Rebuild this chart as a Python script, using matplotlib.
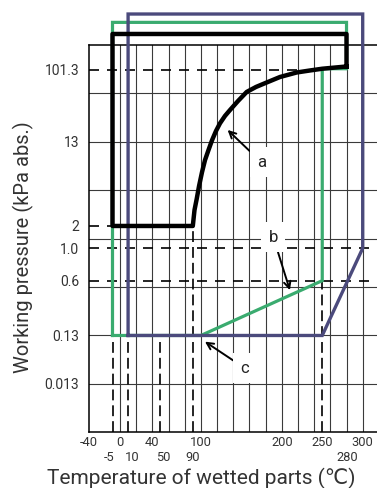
import numpy as np
import matplotlib
matplotlib.use('Agg')
import matplotlib.pyplot as plt
import matplotlib.transforms as mtransforms
from matplotlib.ticker import FixedLocator, FixedFormatter, NullFormatter

plt.rcParams['font.family'] = ['Roboto', 'DejaVu Sans']

# ---------------- schematic axis anchors (value -> position) ----------------
X_ANCHOR_T = [-100, -40, -5, 0, 400]
X_ANCHOR_POS = [-48.0, 0.0, 23.5, 31.0, 31.0 + 400 * 0.809]

Y_ANCHOR_P = [1e-8, 0.0013, 0.013, 0.13, 0.6, 1.0, 2.0, 13.0, 101.3, 1013.0, 1e8]
Y_ANCHOR_ROW = [-5.114, 0.0, 1.0, 2.0, 3.132, 3.801, 4.262, 6.003, 7.484, 9.145, 17.44]

# ---------------- data ----------------
# curve a : temperature (degC) / pressure (kPa abs.)
curve_t = [90, 92.1, 94.8, 97.7, 101.4, 105.1, 109.4, 113.7, 118.7, 123.6, 129.8, 136.0,
           145.9, 156.6, 168.1, 181.3, 197.8, 218.4, 234.9, 250, 280]
curve_p = [2.0, 2.85, 3.64, 4.85, 6.62, 8.65, 10.8, 13.5, 17.7, 22.0, 27.2, 32.2,
           41.7, 54.0, 62.3, 70.8, 82.9, 94.3, 99.9, 105, 112]

# black outline (part before the curve)
black_t = [280, 280, -5, -5, 90]
black_p = [112, 284, 284, 2.0, 2.0]

# green outline
green_t = [-5, 100, 250, 250, 280, 280, -5, -5]
green_p = [0.13, 0.13, 0.6, 105, 105, 396, 396, 0.13]

# blue outline
blue_t = [10, 250, 300, 300, 10, 10]
blue_p = [0.13, 0.13, 1.0, 503, 503, 0.13]

# dashed reference lines
hdash_p = [101.3, 2.0, 1.0, 0.6]
hdash_tmax = [250, -5, 320, 320]
vdash_t = [-5, 10, 50, 90, 250]
vdash_ptop = [0.13, 0.13, 0.13, 2.0, 0.6]

# ticks
xtick_row1 = [-40, 0, 40, 100, 200, 250, 300]
xtick_row2 = [-5, 10, 50, 90, 280]
xtick_row2_nudge_px = [-3, 4.5, 2.5, 0, 1]
xgrid_t = list(range(0, 301, 20))
ytick_vals = [0.013, 0.13, 0.6, 1.0, 2.0, 13.0, 101.3]
ytick_labels = ['0.013', '0.13', '0.6', '1.0', '2', '13', '101.3']

# annotations: label, arrow tip (t, p), text position (t, p)
ann_labels = ['a', 'b', 'c']
ann_tip = [(133, 18.2), (210, 0.46), (105, 0.097)]
ann_text = [(175, 8.2), (189.5, 1.41), (154.5, 0.0273)]

GREEN = '#3aab6f'
BLUE = '#4b4a7c'
GRIDC = '#3a3a3a'
TEXTC = '#333333'


def fwd_x(t):
    return np.interp(np.asarray(t, dtype=float), X_ANCHOR_T, X_ANCHOR_POS)


def inv_x(x):
    return np.interp(np.asarray(x, dtype=float), X_ANCHOR_POS, X_ANCHOR_T)


LOGS = np.log10(Y_ANCHOR_P)


def fwd_y(p):
    p = np.clip(np.asarray(p, dtype=float), 1e-12, None)
    return np.interp(np.log10(p), LOGS, Y_ANCHOR_ROW)


def inv_y(r):
    return 10 ** np.interp(np.asarray(r, dtype=float), Y_ANCHOR_ROW, LOGS)


fig = plt.figure(figsize=(3.77, 4.88), dpi=100)
AX_H = 432.3 - 45
ax = fig.add_axes([89 / 377, (488 - 432.3) / 488, 1 - 89 / 377, AX_H / 488])
ax.set_xscale('function', functions=(fwd_x, inv_x))
ax.set_yscale('function', functions=(fwd_y, inv_y))

XMAX = float(inv_x(377 - 89))
ax.set_xlim(-40, XMAX)
ax.set_ylim(float(inv_y(0)), float(inv_y(8)))

# ticks / grid
ax.xaxis.set_major_locator(FixedLocator(xtick_row1))
ax.xaxis.set_major_formatter(FixedFormatter([str(v) for v in xtick_row1]))
ax.xaxis.set_minor_locator(FixedLocator(xgrid_t))
ax.xaxis.set_minor_formatter(NullFormatter())
ax.xaxis.remove_overlapping_locs = False

ax.yaxis.set_major_locator(FixedLocator(ytick_vals))
ax.yaxis.set_major_formatter(FixedFormatter(ytick_labels))
ax.yaxis.set_minor_locator(FixedLocator(inv_y(np.arange(1, 8))))
ax.yaxis.set_minor_formatter(NullFormatter())
ax.yaxis.remove_overlapping_locs = False

ax.tick_params(which='both', length=0)
ax.tick_params(axis='x', which='major', labelsize=9.3, pad=2.5, colors=TEXTC)
ax.tick_params(axis='y', which='major', labelsize=10, pad=7, colors=TEXTC)
ax.grid(False, which='major')
ax.grid(True, which='minor', color=GRIDC, lw=0.8)
ax.set_axisbelow(True)

# second row of temperature labels
for v, nud in zip(xtick_row2, xtick_row2_nudge_px):
    tr = ax.get_xaxis_transform() + mtransforms.ScaledTranslation(nud / 100, 0, fig.dpi_scale_trans)
    ax.text(v, (432.3 - 457.3) / AX_H, str(v), transform=tr,
            ha='center', va='center', fontsize=9.3, color=TEXTC)

for s in ['left', 'bottom', 'top']:
    ax.spines[s].set_linewidth(1.1)
    ax.spines[s].set_color('black')
ax.spines['right'].set_visible(False)

# dashed lines
for p, tmax in zip(hdash_p, hdash_tmax):
    ax.hlines(p, -40, tmax, colors='black', lw=1.2, linestyles=(0, (6.0, 4.8)), zorder=2)
for t, ptop in zip(vdash_t, vdash_ptop):
    ax.vlines(t, float(inv_y(0)), ptop, colors='black', lw=1.2, linestyles=(0, (6.5, 3.0)), zorder=2)

# outlines
ax.plot(green_t, green_p, color=GREEN, lw=2.3, clip_on=False, zorder=4, solid_joinstyle='miter')
ax.plot(blue_t, blue_p, color=BLUE, lw=2.4, clip_on=False, zorder=5, solid_joinstyle='miter')
ax.plot(black_t + curve_t, black_p + curve_p, color='black', lw=3.2, clip_on=False, zorder=6,
        solid_joinstyle='round')

# annotations
for lab, tip, txt in zip(ann_labels, ann_tip, ann_text):
    ax.annotate(lab, xy=tip, xytext=txt, fontsize=12, color='#222222', ha='center', va='center',
                bbox=dict(boxstyle='square,pad=0.45', fc='white', ec='none'),
                arrowprops=dict(arrowstyle='->', lw=1.4, color='black', shrinkA=0, shrinkB=0,
                                mutation_scale=12),
                zorder=7)

ax.set_xlabel('Temperature of wetted parts (\u2103)', fontsize=15, color=TEXTC)
ax.xaxis.label.set_va('center')
ax.xaxis.set_label_coords((201 - 89) / 288, (432.3 - 478) / AX_H)
ax.set_ylabel('Working pressure (kPa abs.)', fontsize=14.5, color=TEXTC)
ax.yaxis.label.set_va('center')
ax.yaxis.set_label_coords((23 - 89) / 288, (432.3 - 247.5) / AX_H)

fig.savefig('out.png', dpi=100)
